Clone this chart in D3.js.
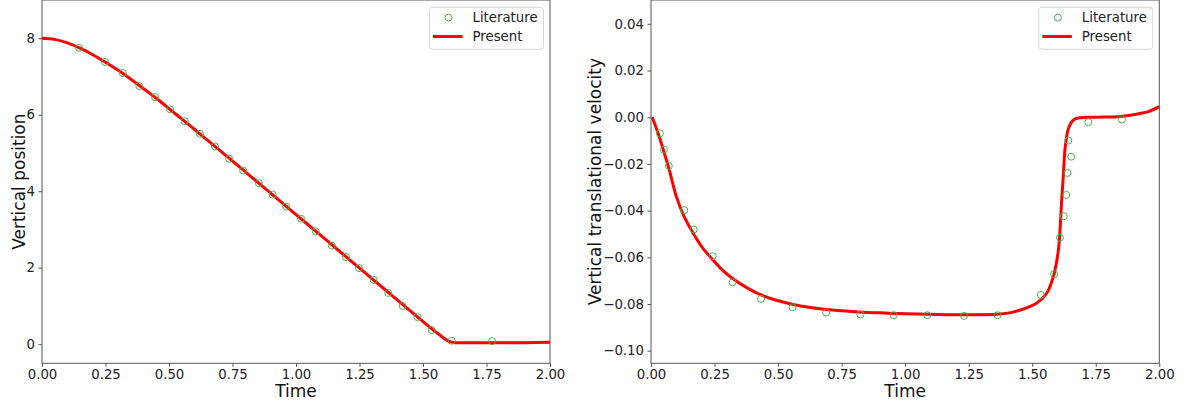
<!DOCTYPE html>
<html><head><meta charset="utf-8">
<script src="https://cdnjs.cloudflare.com/ajax/libs/d3/7.8.5/d3.min.js"></script>
<style>
body{margin:0;background:#fff;}
svg{display:block;font-family:"DejaVu Sans",sans-serif;}
</style></head><body>
<script>
// ---- data ----
const posLitTime = [0.146,0.248,0.318,0.383,0.445,0.504,0.562,0.622,0.681,0.737,0.792,0.854,0.908,0.961,1.020,1.078,1.141,1.197,1.248,1.306,1.363,1.420,1.478,1.534,1.613,1.772];
const posLitValue = [7.75,7.38,7.09,6.75,6.46,6.14,5.83,5.50,5.17,4.85,4.54,4.21,3.91,3.60,3.28,2.95,2.58,2.28,1.99,1.68,1.34,1.00,0.71,0.37,0.09,0.08];
const posTime = [0,0.05,0.1,0.15,0.2,0.25,0.3,0.35,0.4,0.45,0.5,0.55,0.6,0.65,0.7,0.75,0.8,0.85,0.9,0.95,1.0,1.05,1.1,1.15,1.2,1.25,1.3,1.35,1.4,1.45,1.5,1.55,1.58,1.6,1.62,1.64,1.7,1.8,1.9,2.0];
const posValue = [8.00,7.97,7.88,7.74,7.57,7.37,7.16,6.93,6.68,6.43,6.16,5.89,5.62,5.34,5.07,4.79,4.51,4.23,3.95,3.67,3.39,3.11,2.83,2.55,2.27,1.99,1.71,1.43,1.15,0.87,0.59,0.32,0.17,0.08,0.045,0.04,0.04,0.04,0.04,0.05];

const velLitTime = [0.035,0.051,0.070,0.131,0.168,0.243,0.321,0.433,0.557,0.689,0.824,0.955,1.087,1.232,1.364,1.534,1.586,1.609,1.624,1.634,1.639,1.653,1.642,1.721,1.853];
const velLitValue = [-0.0069,-0.0139,-0.0209,-0.0398,-0.0481,-0.0595,-0.0707,-0.0778,-0.0814,-0.0837,-0.0845,-0.0848,-0.0848,-0.0851,-0.0848,-0.0761,-0.0672,-0.0516,-0.0424,-0.0333,-0.0239,-0.0169,-0.0100,-0.0021,-0.0010];
const velTime = [0.005,0.03,0.05,0.07,0.10,0.13,0.166,0.2,0.245,0.28,0.324,0.38,0.43,0.5,0.56,0.62,0.69,0.8,0.9,1.0,1.16,1.3,1.36,1.41,1.45,1.49,1.52,1.557,1.583,1.603,1.616,1.623,1.630,1.643,1.662,1.69,1.75,1.85,1.92,1.96,2.0];
const velValue = [0,-0.0075,-0.0145,-0.0218,-0.0340,-0.0425,-0.0497,-0.0555,-0.0613,-0.0654,-0.0693,-0.0732,-0.0760,-0.0786,-0.0802,-0.0814,-0.0824,-0.0833,-0.0838,-0.0842,-0.0846,-0.0846,-0.0844,-0.0838,-0.0827,-0.0811,-0.0795,-0.0754,-0.0683,-0.0568,-0.0354,-0.0240,-0.0126,-0.0047,-0.0012,-0.0002,0.0000,0.0003,0.0015,0.0025,0.0045];

const xTicks = [0,0.25,0.5,0.75,1.0,1.25,1.5,1.75,2.0];
const posTicks = [0,2,4,6,8];
const velTicks = [-0.10,-0.08,-0.06,-0.04,-0.02,0.00,0.02,0.04];
const legendLabels = ["Literature","Present"];

// ---- drawing ----
const W = 1188, H = 403;
const svg = d3.select("body").append("svg").attr("width", W).attr("height", H);
const fmt2 = v => d3.format(".2f")(v).replace("-", "\u2212");

function panel(opt){
  const {left, right, top, bottom, xDom, yDom, yTicks, yFmt, ylabel, ylabelX, lit, line} = opt;
  const x = d3.scaleLinear().domain(xDom).range([left, right]);
  const y = d3.scaleLinear().domain(yDom).range([bottom, top]);
  const g = svg.append("g");
  g.append("rect").attr("x", left).attr("y", top).attr("width", right-left).attr("height", bottom-top)
    .attr("fill", "none").attr("stroke", "#555").attr("stroke-width", 1);
  const xa = g.append("g").attr("transform", `translate(0,${bottom})`)
    .call(d3.axisBottom(x).tickValues(xTicks).tickFormat(d3.format(".2f")).tickSize(3.5).tickPadding(3));
  const ya = g.append("g").attr("transform", `translate(${left},0)`)
    .call(d3.axisLeft(y).tickValues(yTicks).tickFormat(yFmt).tickSize(3.5).tickPadding(3.5));
  [xa, ya].forEach(a => {
    a.select(".domain").remove();
    a.selectAll(".tick line").attr("stroke", "#555");
    a.selectAll("text").attr("font-size", 13.3).attr("fill", "#222").attr("font-family", "DejaVu Sans");
  });
  g.append("text").attr("x", (left+right)/2).attr("y", 397).attr("text-anchor", "middle")
    .attr("font-size", 17).attr("fill", "#111").text("Time");
  g.append("text").attr("transform", `translate(${ylabelX},${(top+bottom)/2}) rotate(-90)`)
    .attr("text-anchor", "middle").attr("font-size", 17).attr("fill", "#111").text(ylabel);
  const ln = d3.line().x(d => x(d[0])).y(d => y(d[1])).curve(d3.curveCatmullRom.alpha(0.5));
  g.append("path").datum(line).attr("d", ln).attr("fill", "none").attr("stroke", "#ff0000")
    .attr("stroke-width", 3).attr("stroke-linejoin", "round");
  g.selectAll("circle.lit").data(lit).join("circle").attr("class", "lit")
    .attr("cx", d => x(d[0])).attr("cy", d => y(d[1])).attr("r", 3.5)
    .attr("fill", "none").attr("stroke", "#4caf50").attr("stroke-width", 1);
  const lx = right - 120.5, ly = top + 7.3;
  const lg = g.append("g");
  lg.append("rect").attr("x", lx).attr("y", ly).attr("width", 114).attr("height", 42).attr("rx", 3)
    .attr("fill", "#fff").attr("fill-opacity", 0.8).attr("stroke", "#d6d6d6").attr("stroke-width", 1);
  lg.append("circle").attr("cx", lx+19).attr("cy", ly+10.3).attr("r", 3.5)
    .attr("fill", "none").attr("stroke", "#4caf50").attr("stroke-width", 1);
  lg.append("line").attr("x1", lx+3.5).attr("x2", lx+33).attr("y1", ly+29.2).attr("y2", ly+29.2)
    .attr("stroke", "#ff0000").attr("stroke-width", 3);
  lg.selectAll("text.lt").data(legendLabels).join("text").attr("class", "lt")
    .attr("x", lx+43).attr("y", (d,i) => ly+10.3 + i*18.9).attr("dy", "0.35em")
    .attr("font-size", 13.3).attr("fill", "#222").text(d => d);
}

panel({left: 42, right: 550, top: 0, bottom: 363.3, xDom: [0, 2], yDom: [-0.5, 9.0],
  yTicks: posTicks, yFmt: d3.format("d"), ylabel: "Vertical position", ylabelX: 24.5,
  lit: posLitTime.map((t,i) => [t, posLitValue[i]]), line: posTime.map((t,i) => [t, posValue[i]])});
panel({left: 651, right: 1159.3, top: 0, bottom: 363.3, xDom: [0, 2], yDom: [-0.1054, 0.0502],
  yTicks: velTicks, yFmt: fmt2, ylabel: "Vertical translational velocity", ylabelX: 601,
  lit: velLitTime.map((t,i) => [t, velLitValue[i]]), line: velTime.map((t,i) => [t, velValue[i]])});
</script>
</body></html>
